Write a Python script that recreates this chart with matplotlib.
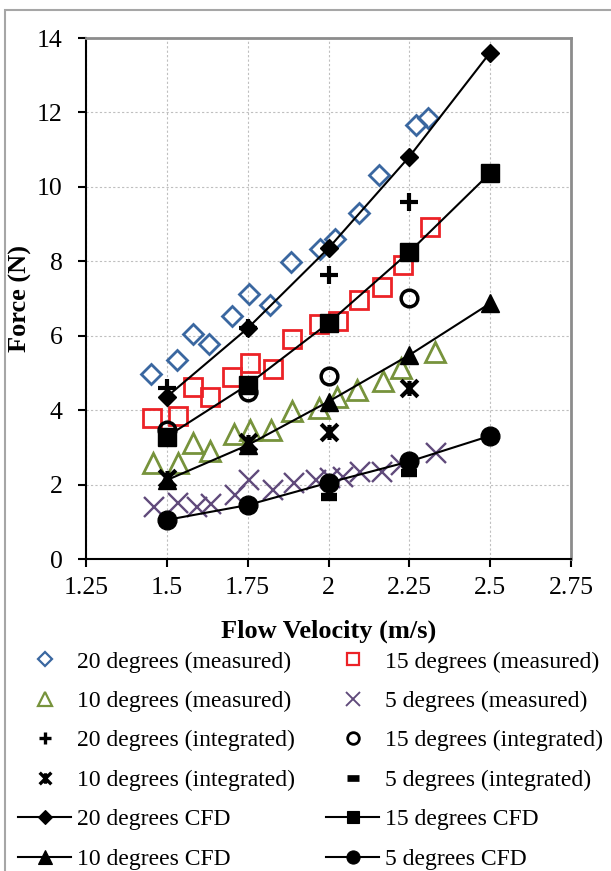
import numpy as np
import matplotlib
matplotlib.use("Agg")
import matplotlib.pyplot as plt
from matplotlib.lines import Line2D
from matplotlib.patches import Rectangle
from matplotlib.path import Path

plt.rcParams['font.family'] = ['Liberation Serif', 'DejaVu Serif']

# Messwerte (Kraft über Strömungsgeschwindigkeit)
v20_meas = [1.45, 1.53, 1.58, 1.63, 1.70, 1.755, 1.82, 1.885, 1.973, 2.02, 2.093, 2.155, 2.272, 2.308]
f20_meas = [4.96, 5.35, 6.05, 5.77, 6.53, 7.12, 6.82, 7.97, 8.33, 8.59, 9.29, 10.31, 11.66, 11.85]

v15_meas = [1.453, 1.533, 1.58, 1.633, 1.703, 1.757, 1.829, 1.887, 1.971, 2.03, 2.095, 2.164, 2.231, 2.313]
f15_meas = [3.80, 3.84, 4.61, 4.34, 4.88, 5.27, 5.11, 5.92, 6.31, 6.39, 6.96, 7.30, 7.90, 8.91]

v10_meas = [1.456, 1.533, 1.582, 1.635, 1.708, 1.757, 1.822, 1.887, 1.97, 2.027, 2.087, 2.169, 2.224, 2.329]
f10_meas = [2.57, 2.59, 3.13, 2.89, 3.35, 3.47, 3.47, 3.99, 4.07, 4.36, 4.54, 4.79, 5.13, 5.55]

v5_meas = [1.46, 1.535, 1.592, 1.636, 1.711, 1.755, 1.829, 1.894, 1.96, 2.004, 2.045, 2.097, 2.164, 2.224, 2.334]
f5_meas = [1.41, 1.51, 1.39, 1.47, 1.72, 2.12, 1.85, 2.03, 2.12, 2.18, 2.21, 2.34, 2.35, 2.53, 2.84]

# Integrierte Werte
v_int = [1.5, 1.75, 2.0, 2.25]
f20_int = [4.59, 6.20, 7.63, 9.60]
f15_int = [3.47, 4.50, 4.92, 7.01]
f10_int = [2.18, 3.15, 3.40, 4.59]
f5_int = [1.00, 1.41, 1.66, 2.30]

# CFD
v_cfd = [1.5, 1.75, 2.0, 2.25, 2.5]
f20_cfd = [4.36, 6.20, 8.35, 10.81, 13.61]
f15_cfd = [3.29, 4.68, 6.34, 8.25, 10.37]
f10_cfd = [2.12, 3.06, 4.23, 5.48, 6.87]
f5_cfd = [1.05, 1.45, 2.05, 2.62, 3.31]

c_blue = '#3A67A0'
c_red = '#EC2227'
c_green = '#77933C'
c_purple = '#604A7B'

# Stern-Marker: X mit senkrechtem Strich
star = Path([(-1, -1), (1, 1), (-1, 1), (1, -1), (0, -0.9), (0, 0.9)],
            [Path.MOVETO, Path.LINETO, Path.MOVETO, Path.LINETO, Path.MOVETO, Path.LINETO])

W, H = 611, 871
fig = plt.figure(figsize=(W / 100, H / 100), dpi=100)
ax = fig.add_axes([86 / W, 1 - 559 / H, (571 - 86) / W, (559 - 38) / H])

# Rahmen um das Diagramm
fig.patches.append(Rectangle((5 / W, -0.05), 1.2, 1 - 10 / H + 0.05, transform=fig.transFigure,
                             fill=False, edgecolor='#A6A6A6', linewidth=1.5))

ax.set_xlim(1.25, 2.75)
ax.set_ylim(0, 14)
ax.set_xticks([1.25, 1.5, 1.75, 2.0, 2.25, 2.5, 2.75])
ax.set_xticklabels(['1.25', '1.5', '1.75', '2', '2.25', '2.5', '2.75'])
ax.set_yticks(range(0, 15, 2))
ax.grid(True, color='#BFBFBF', linestyle=(0, (2, 2)), linewidth=0.8)
ax.set_axisbelow(True)
for s in ['left', 'bottom']:
    ax.spines[s].set_linewidth(1.5)
    ax.spines[s].set_color('black')
for s in ['top', 'right']:
    ax.spines[s].set_linewidth(2)
    ax.spines[s].set_color('#8C8C8C')
ax.tick_params(axis='both', direction='out', length=6, width=1.5, labelsize=18.5)
ax.tick_params(axis='x', pad=7)
ax.tick_params(axis='y', pad=11)

h20m, = ax.plot(v20_meas, f20_meas, ls='none', marker='D', ms=10, mfc='none', mec=c_blue, mew=2)
h15m, = ax.plot(v15_meas, f15_meas, ls='none', marker='s', ms=12.5, mfc='none', mec=c_red, mew=2)
h10m, = ax.plot(v10_meas, f10_meas, ls='none', marker='^', ms=14, mfc='none', mec=c_green, mew=2)
h5m, = ax.plot(v5_meas, f5_meas, ls='none', marker='x', ms=14, mec=c_purple, mew=1.7)

h20c, = ax.plot(v_cfd, f20_cfd, color='black', lw=1.5, marker='D', ms=9.5, mfc='black', mec='black')
h15c, = ax.plot(v_cfd, f15_cfd, color='black', lw=1.5, marker='s', ms=12.5, mfc='black', mec='black')
h10c, = ax.plot(v_cfd, f10_cfd, color='black', lw=1.5, marker='^', ms=13.5, mfc='black', mec='black')
h5c, = ax.plot(v_cfd, f5_cfd, color='black', lw=1.5, marker='o', ms=13.5, mfc='black', mec='black')

h20i, = ax.plot(v_int, f20_int, ls='none', marker='+', ms=13, mec='black', mew=3)
h15i, = ax.plot(v_int, f15_int, ls='none', marker='o', ms=12, mfc='none', mec='black', mew=2.5)
h10i, = ax.plot(v_int, f10_int, ls='none', marker=star, ms=12, mec='black', mew=3)
h5i, = ax.plot(v_int, f5_int, ls='none', marker='_', ms=12, mec='black', mew=6)

ax.set_xlabel('Flow Velocity (m/s)', fontsize=19, fontweight='bold', labelpad=15)
ax.set_ylabel('Force (N)', fontsize=19, fontweight='bold', labelpad=3)

# Legende in zwei Spalten
def legend_handle(h):
    return Line2D([], [], linestyle=h.get_linestyle(), color=h.get_color(), lw=h.get_linewidth(),
                  marker=h.get_marker(), ms=h.get_markersize() * 0.7, mfc=h.get_markerfacecolor(),
                  mec=h.get_markeredgecolor(), mew=h.get_markeredgewidth() * 0.8)

col1 = [(h20m, '20 degrees (measured)'), (h10m, '10 degrees (measured)'),
        (h20i, '20 degrees (integrated)'), (h10i, '10 degrees (integrated)'),
        (h20c, '20 degrees CFD'), (h10c, '10 degrees CFD')]
col2 = [(h15m, '15 degrees (measured)'), (h5m, '5 degrees (measured)'),
        (h15i, '15 degrees (integrated)'), (h5i, '5 degrees (integrated)'),
        (h15c, '15 degrees CFD'), (h5c, '5 degrees CFD')]

for col, x0 in [(col1, 18), (col2, 326)]:
    leg = fig.legend([legend_handle(h) for h, _ in col], [t for _, t in col],
                     loc='upper left', bbox_to_anchor=(x0 / W, 1 - 651 / H),
                     frameon=False, fontsize=17, handlelength=2.25, handletextpad=0.25,
                     labelspacing=0.76, borderpad=0, borderaxespad=0)

fig.savefig('out.png', dpi=100)
